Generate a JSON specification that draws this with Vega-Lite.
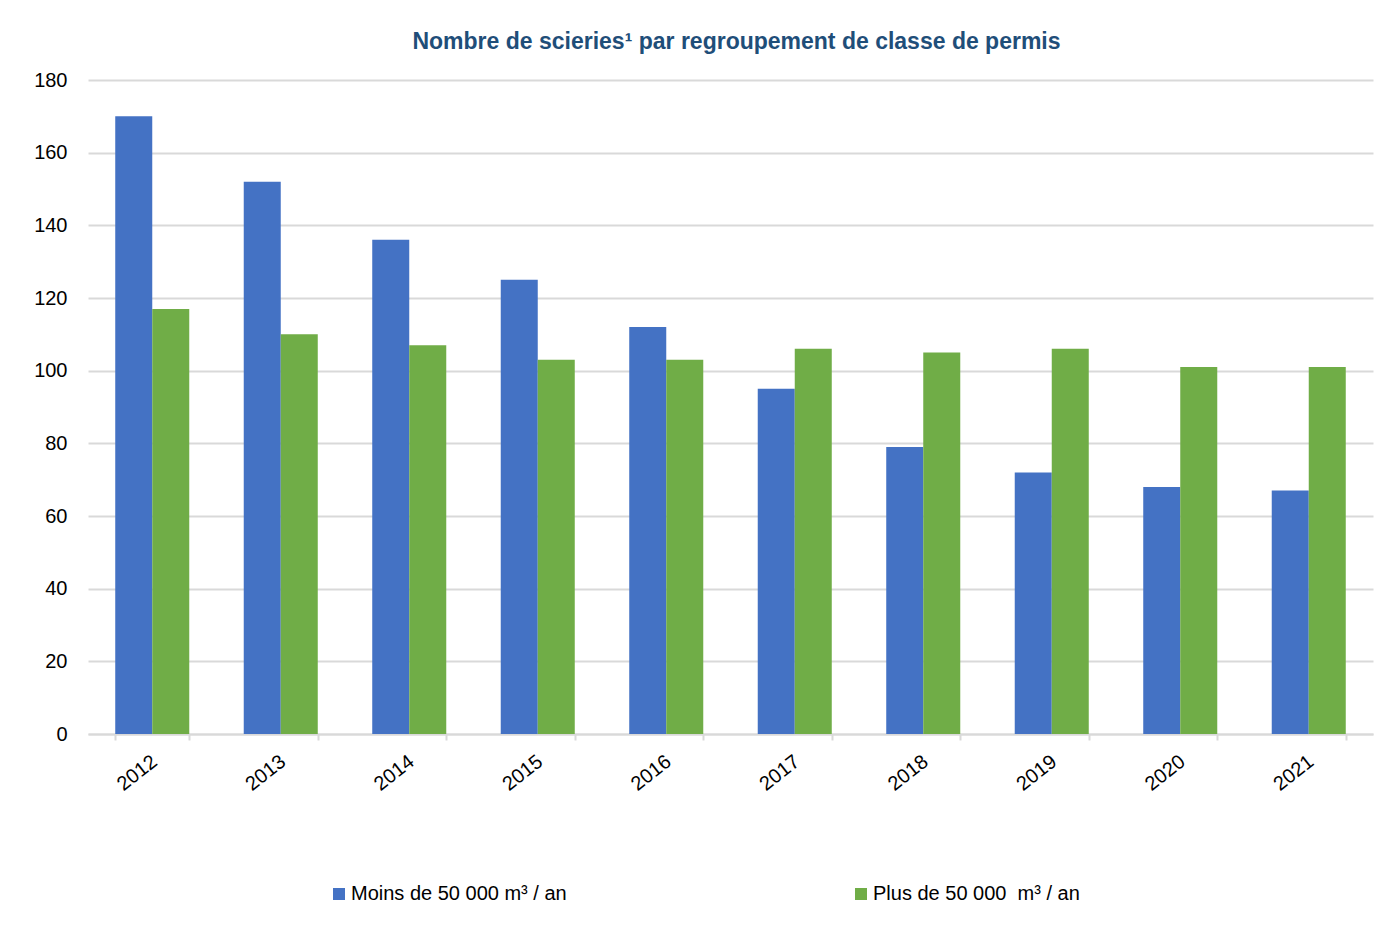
{
  "$schema": "https://vega.github.io/schema/vega-lite/v6.json",
  "autosize": "none",
  "width": 1285,
  "height": 654,
  "padding": {"left": 88, "top": 80, "right": 5, "bottom": 195},
  "background": "white",
  "title": {
    "text": "Nombre de scieries¹ par regroupement de classe de permis",
    "font": "Liberation Sans",
    "fontSize": 23,
    "fontWeight": "bold",
    "color": "#1F4E79",
    "anchor": "middle",
    "dx": 6,
    "offset": 16
  },
  "data": {
    "values": [
      {"annee": "2012", "classe": "Moins de 50 000 m³ / an", "n": 170},
      {"annee": "2012", "classe": "Plus de 50 000\u00a0 m³ / an", "n": 117},
      {"annee": "2013", "classe": "Moins de 50 000 m³ / an", "n": 152},
      {"annee": "2013", "classe": "Plus de 50 000\u00a0 m³ / an", "n": 110},
      {"annee": "2014", "classe": "Moins de 50 000 m³ / an", "n": 136},
      {"annee": "2014", "classe": "Plus de 50 000\u00a0 m³ / an", "n": 107},
      {"annee": "2015", "classe": "Moins de 50 000 m³ / an", "n": 125},
      {"annee": "2015", "classe": "Plus de 50 000\u00a0 m³ / an", "n": 103},
      {"annee": "2016", "classe": "Moins de 50 000 m³ / an", "n": 112},
      {"annee": "2016", "classe": "Plus de 50 000\u00a0 m³ / an", "n": 103},
      {"annee": "2017", "classe": "Moins de 50 000 m³ / an", "n": 95},
      {"annee": "2017", "classe": "Plus de 50 000\u00a0 m³ / an", "n": 106},
      {"annee": "2018", "classe": "Moins de 50 000 m³ / an", "n": 79},
      {"annee": "2018", "classe": "Plus de 50 000\u00a0 m³ / an", "n": 105},
      {"annee": "2019", "classe": "Moins de 50 000 m³ / an", "n": 72},
      {"annee": "2019", "classe": "Plus de 50 000\u00a0 m³ / an", "n": 106},
      {"annee": "2020", "classe": "Moins de 50 000 m³ / an", "n": 68},
      {"annee": "2020", "classe": "Plus de 50 000\u00a0 m³ / an", "n": 101},
      {"annee": "2021", "classe": "Moins de 50 000 m³ / an", "n": 67},
      {"annee": "2021", "classe": "Plus de 50 000\u00a0 m³ / an", "n": 101}
    ]
  },
  "mark": {"type": "bar"},
  "encoding": {
    "x": {
      "field": "annee",
      "type": "nominal",
      "title": null,
      "scale": {"paddingInner": 0.424, "paddingOuter": 0.212},
      "axis": {
        "tickBand": "extent",
        "domainColor": "#d9d9d9",
        "domainWidth": 2,
        "tickColor": "#d9d9d9",
        "tickWidth": 2,
        "tickSize": 6,
        "labelAngle": -38,
        "labelFont": "Liberation Sans",
        "labelFontSize": 20,
        "labelColor": "#000000",
        "labelPadding": 11,
        "labelOffset": -4,
        "grid": false
      }
    },
    "xOffset": {"field": "classe", "type": "nominal"},
    "y": {
      "field": "n",
      "type": "quantitative",
      "title": null,
      "scale": {"domain": [0, 180], "nice": false},
      "axis": {
        "values": [0, 20, 40, 60, 80, 100, 120, 140, 160, 180],
        "domain": false,
        "ticks": false,
        "grid": true,
        "gridColor": "#d9d9d9",
        "gridWidth": 2,
        "labelFont": "Liberation Sans",
        "labelFontSize": 20,
        "labelColor": "#000000",
        "labelPadding": 21
      }
    },
    "color": {
      "field": "classe",
      "type": "nominal",
      "title": null,
      "scale": {"range": ["#4472C4", "#70AD47"]},
      "legend": {
        "orient": "none",
        "direction": "horizontal",
        "legendX": 241,
        "legendY": 804,
        "symbolType": "square",
        "symbolSize": 144,
        "symbolStrokeWidth": 0,
        "labelFont": "Liberation Sans",
        "labelFontSize": 20,
        "labelColor": "#000000",
        "labelOffset": 2,
        "columnPadding": 284,
        "labelLimit": 400
      }
    }
  },
  "config": {
    "view": {"stroke": null}
  }
}
